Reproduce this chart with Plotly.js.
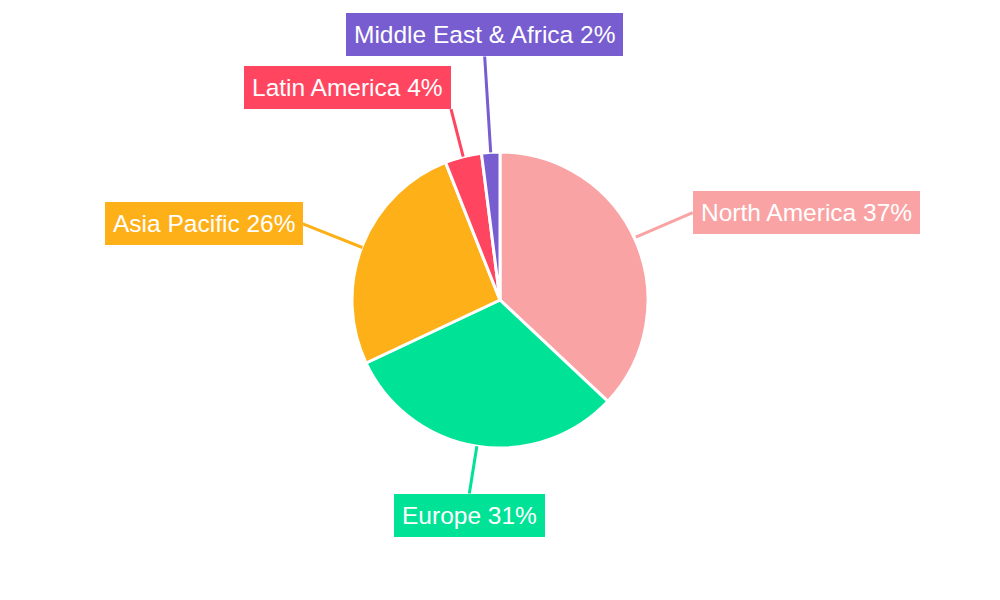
<!DOCTYPE html>
<html>
<head>
<meta charset="utf-8">
<script src="https://cdn.plot.ly/plotly-3.0.1.min.js"></script>
<style>html,body{margin:0;padding:0;background:#fff;}#chart{width:1000px;height:600px;}</style>
</head>
<body>
<div id="chart"></div>
<script>
const regions = ["North America", "Europe", "Asia Pacific", "Latin America", "Middle East & Africa"];
const shares = [37, 31, 26, 4, 2];
const colors = ["#F9A3A4", "#00E396", "#FEB019", "#FF4560", "#775DD0"];
// leader line lengths (px) and label anchors
const lineLen = [62, 48, 64, 49, 96];
const xAnchors = ["left", "center", "right", "right", "center"];
const yAnchors = ["middle", "top", "middle", "bottom", "bottom"];
const yShifts = [4, 0, -2, 0, 0];

const W = 1000, H = 600;
const cx = 500, cy = 300, R = 148;
const domain = {x: [(cx - R) / W, (cx + R) / W], y: [(H - cy - R) / H, (H - cy + R) / H]};

const total = shares.reduce((a, b) => a + b, 0);
let cum = 0;
const annotations = regions.map((name, i) => {
  const mid = (cum + shares[i] / 2) / total * 2 * Math.PI;
  cum += shares[i];
  const sx = Math.sin(mid), sy = -Math.cos(mid);
  const hx = cx + R * sx, hy = cy + R * sy;
  const pct = Math.round(shares[i] / total * 100);
  return {
    xref: "paper", yref: "paper",
    x: hx / W, y: 1 - hy / H,
    ax: lineLen[i] * sx, ay: lineLen[i] * sy,
    text: name + " " + pct + "%",
    showarrow: true, arrowhead: 0, arrowwidth: 3, arrowcolor: colors[i],
    standoff: 0, startstandoff: 0,
    xanchor: xAnchors[i], yanchor: yAnchors[i], yshift: yShifts[i],
    bgcolor: colors[i], borderpad: 8, borderwidth: 0,
    font: {family: "Liberation Sans, Arial, sans-serif", size: 24.5, color: "#ffffff"}
  };
});

const data = [{
  type: "pie",
  labels: regions,
  values: shares,
  sort: false,
  direction: "clockwise",
  rotation: 0,
  textinfo: "none",
  hoverinfo: "label+percent",
  marker: {colors: colors, line: {color: "#ffffff", width: 3}},
  domain: domain
}];

const layout = {
  width: W, height: H,
  margin: {l: 0, r: 0, t: 0, b: 0},
  showlegend: false,
  paper_bgcolor: "#ffffff",
  font: {family: "Liberation Sans, Arial, sans-serif"},
  annotations: annotations
};

Plotly.newPlot("chart", data, layout, {displayModeBar: false, staticPlot: true});
</script>
</body>
</html>
